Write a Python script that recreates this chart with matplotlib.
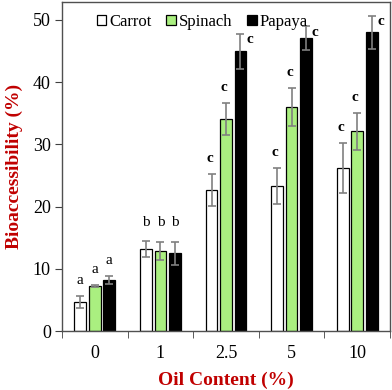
import matplotlib
matplotlib.use("Agg")
import matplotlib.pyplot as plt
import numpy as np

plt.rcParams['font.family'] = ['Liberation Serif', 'DejaVu Serif']

oil = ["0", "1", "2.5", "5", "10"]
series = ["Carrot", "Spinach", "Papaya"]
carrot = [4.7, 13.2, 22.7, 23.3, 26.2]
carrot_err = [1.0, 1.3, 2.6, 2.9, 4.0]
spinach = [7.2, 12.9, 34.1, 36.0, 32.1]
spinach_err = [0.15, 1.5, 2.6, 3.0, 3.0]
papaya = [8.2, 12.5, 45.0, 47.1, 48.0]
papaya_err = [0.65, 1.8, 2.8, 1.9, 2.7]
letters = [["a", "b", "c", "c", "c"],
           ["a", "b", "c", "c", "c"],
           ["a", "b", "c", "c", "c"]]

colors = ["white", "#aaef80", "black"]
red = "#C00000"

fig = plt.figure(figsize=(3.92, 3.90), dpi=100)
ax = fig.add_axes([0.158, 0.151, 0.837, 0.844])

x = np.arange(len(oil))
width = 0.178
offs = [-0.22, 0.0, 0.22]
vals = [carrot, spinach, papaya]
errs = [carrot_err, spinach_err, papaya_err]

for i in range(3):
    ax.bar(x + offs[i], vals[i], width, color=colors[i], edgecolor="black",
           linewidth=0.9, label=series[i], zorder=2)
    ax.errorbar(x + offs[i], vals[i], yerr=errs[i], fmt="none", ecolor="#808080",
                elinewidth=1.2, capsize=3, capthick=1.2, zorder=3)

for i in range(3):
    for j in range(len(oil)):
        top = vals[i][j] + errs[i][j]
        if i == 2 and j >= 2:
            xx = x[j] + offs[i] + 0.14
            yy = top - 1.0
        elif j == 1:
            xx = x[j] + offs[i]
            yy = 17.4
        else:
            xx = x[j] + offs[i] - (0.03 if j >= 2 else 0)
            yy = top + 2.5
        ax.text(xx, yy, letters[i][j], ha="center", va="center",
                fontsize=11, fontweight="bold" if j >= 2 else "normal")

ax.set_xlim(-0.5, 4.5)
ax.set_ylim(0, 52.9)
ax.set_yticks([0, 10, 20, 30, 40, 50])
ax.set_xticks(x)
ax.set_xticklabels(oil)
ax.set_xticks(np.arange(-0.5, 4.6, 1.0), minor=True)
ax.tick_params(axis="x", which="major", length=0, pad=10, labelsize=13)
ax.tick_params(axis="x", which="minor", length=5, direction="out", color="#404040")
ax.tick_params(axis="y", length=5, direction="out", labelsize=13, color="#404040", pad=3)

for s in ax.spines.values():
    s.set_color("#505050")
    s.set_linewidth(1.0)

ax.set_ylabel("Bioaccessibility (%)", color=red, fontsize=14, fontweight="bold", labelpad=7)
ax.set_xlabel("Oil Content (%)", color=red, fontsize=14, fontweight="bold", labelpad=7)

leg = ax.legend(loc="upper left", bbox_to_anchor=(0.075, 0.995), ncol=3, frameon=False,
                fontsize=12, handlelength=0.55, handleheight=0.55, handletextpad=0.2,
                columnspacing=0.9, borderaxespad=0.2)

fig.savefig("out.png", dpi=100)
